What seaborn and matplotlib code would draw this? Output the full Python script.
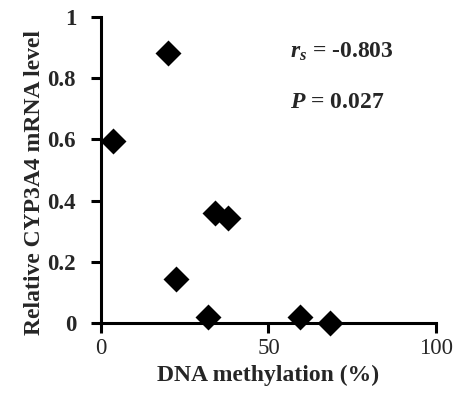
import matplotlib
matplotlib.use("Agg")
import matplotlib.pyplot as plt
import seaborn as sns
import pandas as pd

#values
methylation = [3.7, 19.9, 22.3, 31.8, 34.0, 38.0, 59.5, 68.4]
cyp3a4_mrna = [0.595, 0.881, 0.143, 0.019, 0.358, 0.342, 0.019, 0.001]
x_ticks = [0, 50, 100]
y_ticks = [0, 0.2, 0.4, 0.6, 0.8, 1]
y_tick_labels = ["0", "0.2", "0.4", "0.6", "0.8", "1"]

df = pd.DataFrame({"methylation": methylation, "mrna": cyp3a4_mrna})

sns.set_style("ticks")
plt.rcParams["font.family"] = ["Liberation Serif", "DejaVu Serif"]
plt.rcParams["mathtext.fontset"] = "custom"
plt.rcParams["mathtext.it"] = "Liberation Serif:italic:bold"
plt.rcParams["mathtext.rm"] = "Liberation Serif:bold"

fig = plt.figure(figsize=(4.56, 3.93), dpi=100)
ax = fig.add_axes([0.2215, 0.178, 0.7345, 0.7787])

sns.scatterplot(data=df, x="methylation", y="mrna", marker="D", s=175,
                color="black", edgecolor="black", linewidth=0, ax=ax, clip_on=False)

ax.set_xlim(0, 100)
ax.set_ylim(0, 1)
ax.set_xticks(x_ticks)
ax.set_yticks(y_ticks)
ax.set_yticklabels(y_tick_labels)
sns.despine(ax=ax)
ax.tick_params(axis="both", which="major", direction="out", width=2.2, length=7,
               color="black", labelsize=16.5, left=True, bottom=True)
ax.tick_params(axis="x", pad=4)
ax.tick_params(axis="y", pad=11)
for lab in ax.get_yticklabels():
    lab.set_fontweight("bold")

for side in ["left", "bottom"]:
    ax.spines[side].set_linewidth(2.2)
    ax.spines[side].set_color("black")

ax.set_xlabel("DNA methylation (%)", fontsize=17, fontweight="bold", labelpad=4)
ax.set_ylabel("Relative CYP3A4 mRNA level", fontsize=17, fontweight="bold",
              labelpad=2, y=0.46)

#stats annotation
ax.text(0.565, 0.885, r"$r_s$ = -0.803", transform=ax.transAxes,
        fontsize=17, fontweight="bold", va="center")
ax.text(0.565, 0.72, r"$P$ = 0.027", transform=ax.transAxes,
        fontsize=17, fontweight="bold", va="center")

plt.savefig("out.png", dpi=100)
